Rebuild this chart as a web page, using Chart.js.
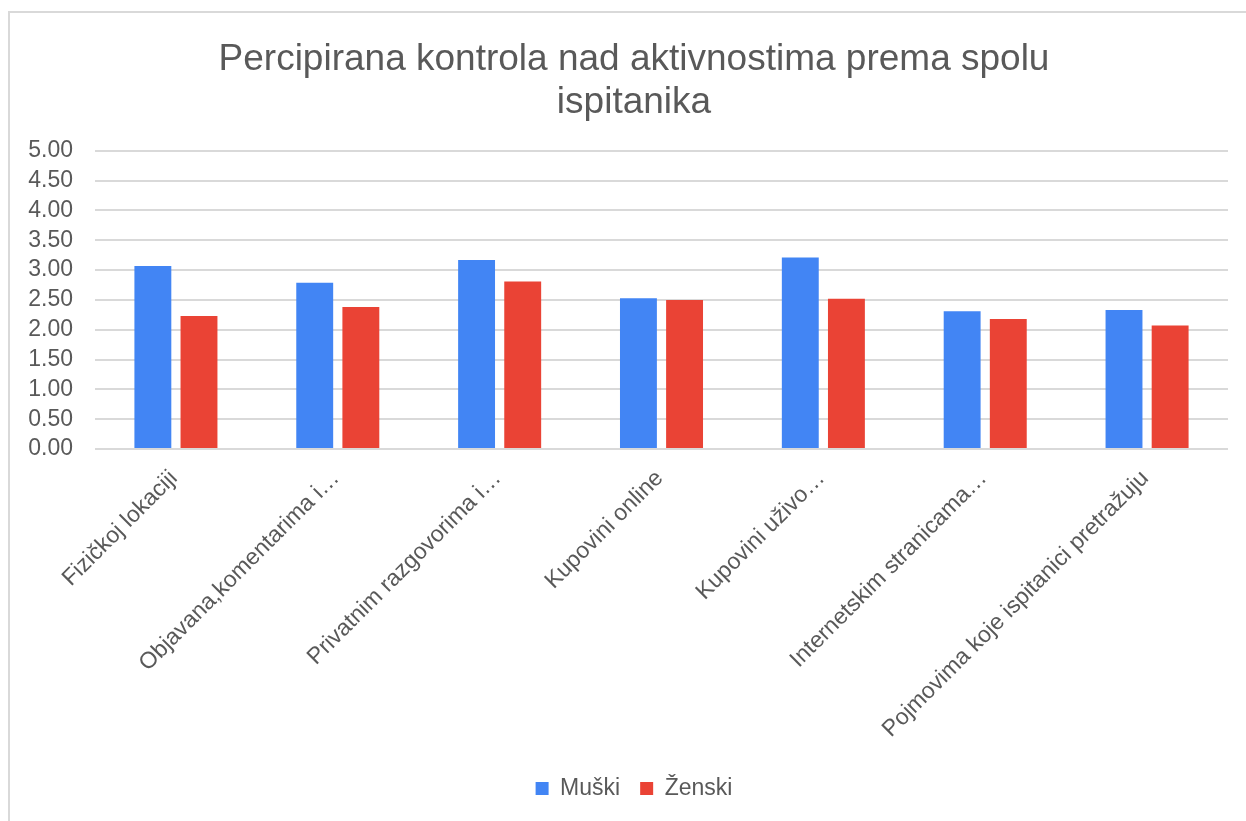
<!DOCTYPE html>
<html>
<head>
<meta charset="utf-8">
<script src="https://cdn.jsdelivr.net/npm/chart.js@4/dist/chart.umd.min.js"></script>
<style>
  html, body { margin: 0; padding: 0; background: #fff; overflow: hidden; }
  .frame {
    position: absolute; left: 8px; top: 11px; width: 1250px; height: 820px;
    border-left: 2px solid #d9d9d9; border-top: 2px solid #d9d9d9;
  }
  .wrap { position: absolute; left: 10px; top: 13px; width: 1248px; height: 808px; }
</style>
</head>
<body>
<div class="frame"></div>
<div class="wrap"><canvas id="chart"></canvas></div>
<script>
// categories and series
const categories = [
  'Fizičkoj lokaciji',
  'Objavana,komentarima i…',
  'Privatnim razgovorima i…',
  'Kupovini online',
  'Kupovini uživo…',
  'Internetskim stranicama…',
  'Pojmovima koje ispitanici pretražuju'
];
const muski  = [3.07, 2.79, 3.17, 2.53, 3.21, 2.31, 2.33];
const zenski = [2.23, 2.38, 2.81, 2.50, 2.52, 2.18, 2.07];
const titleLines = ['Percipirana kontrola nad aktivnostima prema spolu', 'ispitanika'];

const FONT = "'Liberation Sans', Arial, sans-serif";
const TEXT = '#595959';
const GRID = '#d9d9d9';

Chart.defaults.font.family = FONT;
Chart.defaults.color = TEXT;

new Chart(document.getElementById('chart').getContext('2d'), {
  type: 'bar',
  data: {
    labels: categories,
    datasets: [
      { label: 'Muški', data: muski, backgroundColor: '#4285F4', borderWidth: 0 },
      { label: 'Ženski', data: zenski, backgroundColor: '#EA4335', borderWidth: 0 }
    ]
  },
  options: {
    responsive: true,
    maintainAspectRatio: false,
    animation: false,
    categoryPercentage: 0.57,
    barPercentage: 0.8,
    layout: { padding: { left: 0, right: 0, top: 0, bottom: 11 } },
    plugins: {
      tooltip: { enabled: false },
      title: {
        display: true,
        text: titleLines,
        color: TEXT,
        font: { size: 37, weight: 'normal', lineHeight: 1.16 },
        padding: { top: 25, bottom: 27 }
      },
      legend: {
        position: 'bottom',
        labels: {
          boxWidth: 13, boxHeight: 13, padding: 20,
          color: TEXT, font: { size: 23 }
        }
      }
    },
    scales: {
      x: {
        grid: { display: false, drawTicks: false },
        border: { display: false },
        ticks: {
          autoSkip: false, maxRotation: 45, minRotation: 45,
          padding: 16, labelOffset: -2, color: TEXT, font: { size: 23 }
        },
        afterFit(scale) { scale.height = 308; }
      },
      y: {
        min: 0, max: 5,
        grid: { color: GRID, lineWidth: 2, drawTicks: false },
        border: { display: false },
        ticks: {
          stepSize: 0.5, autoSkip: false, padding: 22, color: TEXT, font: { size: 23 },
          callback: v => v.toFixed(2)
        },
        afterFit(scale) { scale.width = 85; }
      },
      // empty right-hand gutter so title and legend stay centred on the whole frame
      gutter: {
        type: 'linear', position: 'right', display: true,
        grid: { display: false }, border: { display: false },
        ticks: { display: false },
        afterFit(scale) { scale.width = 30; }
      }
    }
  }
});
</script>
</body>
</html>
